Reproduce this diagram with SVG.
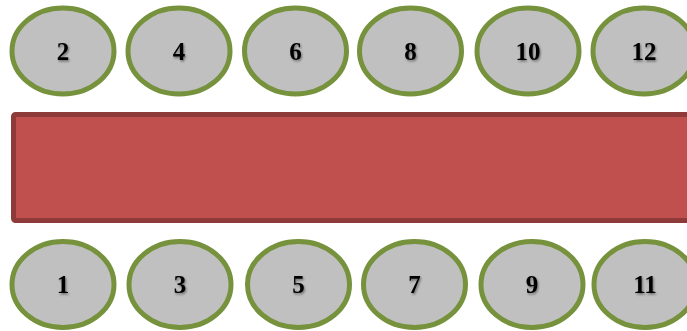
<svg xmlns="http://www.w3.org/2000/svg" width="687" height="331" viewBox="0 0 687 331">
<defs>
<style>
.n ellipse{fill:#C0C0C0;stroke:#76923C;stroke-width:5}
.n text{font-family:"Liberation Serif","Times New Roman",serif;font-weight:bold;font-size:25px;fill:#000;text-anchor:middle;filter:url(#sh)}
.bar{fill:#C0504D;stroke:#8E3A38;stroke-width:5}
</style>
<filter id="sh" x="-30%" y="-30%" width="160%" height="160%">
<feDropShadow dx="1" dy="1.5" stdDeviation="1" flood-color="#000" flood-opacity="0.45"/>
</filter>
</defs>
<rect width="687" height="331" fill="#fff"/>
<g id="bar"><rect class="bar" x="13.5" y="114.5" width="690" height="106" rx="2"/></g>
<g id="n2" class="n"><ellipse cx="63" cy="51" rx="51" ry="43"/><text x="63" y="60">2</text></g>
<g id="n4" class="n"><ellipse cx="179" cy="51" rx="51" ry="43"/><text x="179" y="60">4</text></g>
<g id="n6" class="n"><ellipse cx="295.5" cy="51" rx="51" ry="43"/><text x="295.5" y="60">6</text></g>
<g id="n8" class="n"><ellipse cx="410.5" cy="51" rx="51" ry="43"/><text x="410.5" y="60">8</text></g>
<g id="n10" class="n"><ellipse cx="528" cy="51" rx="51" ry="43"/><text x="528" y="60">10</text></g>
<g id="n12" class="n"><ellipse cx="644" cy="51" rx="51" ry="43"/><text x="644" y="60">12</text></g>
<g id="n1" class="n"><ellipse cx="63" cy="284.5" rx="51" ry="43"/><text x="63" y="293">1</text></g>
<g id="n3" class="n"><ellipse cx="180" cy="284.5" rx="51" ry="43"/><text x="180" y="293">3</text></g>
<g id="n5" class="n"><ellipse cx="298.5" cy="284.5" rx="51" ry="43"/><text x="298.5" y="293">5</text></g>
<g id="n7" class="n"><ellipse cx="414.5" cy="284.5" rx="51" ry="43"/><text x="414.5" y="293">7</text></g>
<g id="n9" class="n"><ellipse cx="532" cy="284.5" rx="51" ry="43"/><text x="532" y="293">9</text></g>
<g id="n11" class="n"><ellipse cx="645" cy="284.5" rx="51" ry="43"/><text x="645" y="293">11</text></g>
<g id="connectors"></g>
</svg>
